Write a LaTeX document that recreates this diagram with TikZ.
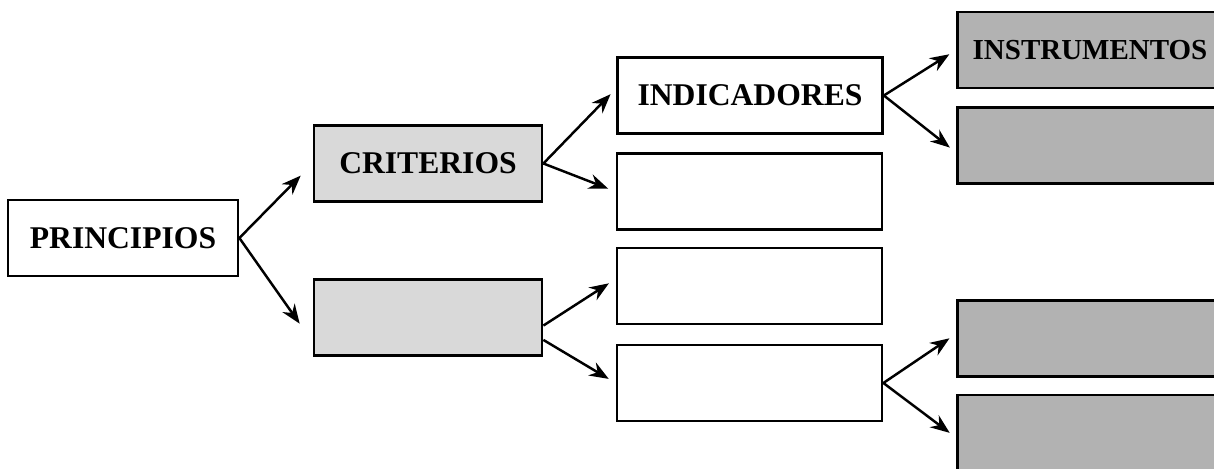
\documentclass[tikz,border=0pt]{standalone}
\usepackage{fontspec}
\setmainfont{Liberation Serif}
\usetikzlibrary{arrows.meta}

\begin{document}
\begin{tikzpicture}[
  x=0.02cm, y=-0.02cm,
  >={Stealth[length=11pt, width=8.5pt]},
  every node/.style={font=\fontsize{18}{20}\selectfont\bfseries},
  box/.style={draw, line width=1.6pt, inner sep=0pt, minimum height=1.52cm},
  princbox/.style={box, minimum width=4.6cm},
  critbox/.style={box, fill=black!15, minimum width=4.56cm},
  indbox/.style={box, minimum width=5.3cm},
  instbox/.style={box, fill=black!30, minimum width=5.3cm},
  arr/.style={->, line width=1.4pt, shorten >=0.16cm}
]
\useasboundingbox (0,0) rectangle (1214,469);
\clip (0,0) rectangle (1214,469);

% First level
\node[princbox] (princ) at (123, 238) {PRINCIPIOS};

% Criteria
\node[critbox] (crit1) at (428, 163.5) {CRITERIOS};
\node[critbox] (crit2) at (428, 317.5) {};

% Indicators
\node[indbox] (ind1) at (750, 95.5) {INDICADORES};
\node[indbox] (ind2) at (749.5, 191.5) {};
\node[indbox] (ind3) at (749.5, 286) {};
\node[indbox] (ind4) at (749.5, 383) {};

% Instruments (cut by the right edge)
\node[instbox, font=\fontsize{16.5}{18}\selectfont\bfseries] (ins1) at (1090, 50) {INSTRUMENTOS};
\node[instbox] (ins2) at (1090, 145.5) {};
\node[instbox] (ins3) at (1090, 338.5) {};
\node[instbox] (ins4) at (1090, 433) {};

% Arrows from principles
\draw[arr, shorten >=0.34cm] (princ.east) -- (crit1.west);
\draw[arr, shorten >=0.45cm] (princ.east) -- (crit2.192);

% Arrows from criteria
\draw[arr] (crit1.east) -- (ind1.177);
\draw[arr] (crit1.east) -- (ind2.west);
\draw[arr] (crit2.-4) -- (ind3.177);
\draw[arr] (crit2.-11) -- (ind4.west);

% Arrows from indicators
\draw[arr] (ind1.east) -- (ins1.west);
\draw[arr] (ind1.east) -- (ins2.183);
\draw[arr] (ind4.east) -- (ins3.178);
\draw[arr] (ind4.east) -- (ins4.182);

\end{tikzpicture}
\end{document}
